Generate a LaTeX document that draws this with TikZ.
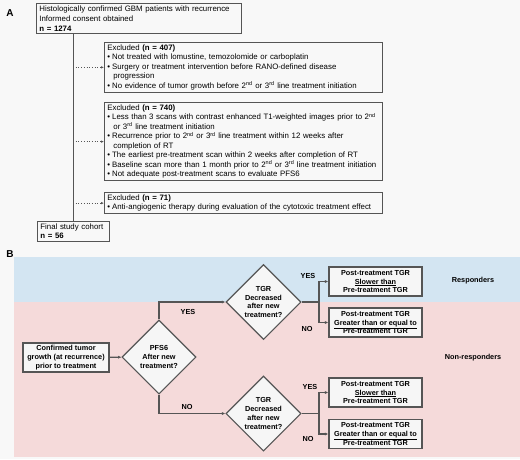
\documentclass[tikz,border=0pt]{standalone}
\usepackage{fontspec}
\setmainfont{Liberation Sans}
\usetikzlibrary{shapes.geometric,arrows.meta}
\definecolor{bgc}{HTML}{F8F8F8}
\definecolor{bluebg}{HTML}{D3E5F2}
\definecolor{pinkbg}{HTML}{F5DADA}
\definecolor{edgec}{HTML}{555555}
\definecolor{boxfill}{HTML}{F6F6F6}
\newcommand{\bul}{\par\hangindent=6pt\hangafter=1\textbullet\hspace{2pt}}
\newcommand{\brk}{\hfil\break}
\hyphenpenalty=10000
\exhyphenpenalty=10000
\begin{document}
\begin{tikzpicture}[x=1pt,y=-1pt,
  abox/.style={draw=edgec,line width=0.8pt,fill=bgc,anchor=north west,align=left,inner xsep=3pt,inner ysep=2.3pt,
    font=\fontsize{7.85}{9.5}\selectfont},
  bbox/.style={draw=edgec,line width=1.1pt,fill=boxfill,align=center,inner sep=0pt,minimum width=93pt,minimum height=29pt,
    font=\fontsize{7.3}{8.7}\selectfont\bfseries},
  dbox/.style={draw=edgec,line width=1.1pt,fill=boxfill,diamond,align=center,inner sep=0pt,minimum width=75pt,minimum height=75pt,
    font=\fontsize{7.3}{8.7}\selectfont\bfseries},
  lbl/.style={font=\fontsize{7.3}{8}\selectfont\bfseries},
  arr/.style={draw=edgec,line width=1.1pt,-{Latex[length=3.5pt,width=3pt]}},
  ln/.style={draw=edgec,line width=1.1pt},
  darr/.style={draw=edgec,line width=0.7pt,dotted,-{Latex[length=3pt,width=2.5pt]}}]
\fill[bgc] (0,0) rectangle (520,459);
\useasboundingbox (0,0) rectangle (520,459);
% Panel A
\node[font=\fontsize{10}{10}\selectfont\bfseries] (la) at (10,13) {A};
\node[abox,text width=199pt,font=\fontsize{7.85}{9.9}\selectfont] (top) at (36,3) {Histologically confirmed GBM patients with recurrence\\Informed consent obtained\\\textbf{n = 1274}};
\node[abox,text width=272pt] (b1) at (104,42) {Excluded \textbf{(n = 407)}%
\bul Not treated with lomustine, temozolomide or carboplatin
\bul Surgery or treatment intervention before RANO-defined disease\brk progression
\bul No evidence of tumor growth before 2\textsuperscript{nd} or 3\textsuperscript{rd} line treatment initiation};
\node[abox,text width=272pt] (b2) at (104,102) {Excluded \textbf{(n = 740)}%
\bul Less than 3 scans with contrast enhanced T1-weighted images prior to 2\textsuperscript{nd}\brk or 3\textsuperscript{rd} line treatment initiation
\bul Recurrence prior to 2\textsuperscript{nd} or 3\textsuperscript{rd} line treatment within 12 weeks after\brk completion of RT
\bul The earliest pre-treatment scan within 2 weeks after completion of RT
\bul Baseline scan more than 1 month prior to 2\textsuperscript{nd} or 3\textsuperscript{rd} line treatment initiation
\bul Not adequate post-treatment scans to evaluate PFS6};
\node[abox,text width=272pt] (b3) at (104,192) {Excluded \textbf{(n = 71)}%
\bul Anti-angiogenic therapy during evaluation of the cytotoxic treatment effect};
\node[abox,text width=66pt] (fin) at (37,221) {Final study cohort\\\textbf{n = 56}};
\coordinate (vx) at (73,0);
\draw[ln,line width=0.8pt] (top.south -| vx) -- (fin.north -| vx);
\draw[darr] (b1.west -| vx) -- (b1.west);
\draw[darr] (b2.west -| vx) -- (b2.west);
\draw[darr] (b3.west -| vx) -- (b3.west);
% Panel B
\node[font=\fontsize{10}{10}\selectfont\bfseries] (lb) at (10,254) {B};
\fill[bluebg] (14,257) rectangle (520,302);
\fill[pinkbg] (14,302) rectangle (520,457);
\node[bbox,minimum width=86pt] (conf) at (66,357.5) {Confirmed tumor\\growth (at recurrence)\\prior to treatment};
\node[dbox,minimum width=74pt,minimum height=74pt] (pfs) at (159,357) {PFS6\\After new\\treatment?};
\node[dbox] (tgra) at (263.5,302) {TGR\\Decreased\\after new\\treatment?};
\node[dbox] (tgrb) at (263.5,413.5) {TGR\\Decreased\\after new\\treatment?};
\node[bbox] (ra1) at (375.5,281.5) {Post-treatment TGR\\\underline{Slower than}\\Pre-treatment TGR};
\node[bbox] (ra2) at (375.5,322.5) {Post-treatment TGR\\\underline{Greater than or equal to}\\Pre-treatment TGR};
\node[bbox] (rb1) at (375.5,392.5) {Post-treatment TGR\\\underline{Slower than}\\Pre-treatment TGR};
\node[bbox] (rb2) at (375.5,434) {Post-treatment TGR\\\underline{Greater than or equal to}\\Pre-treatment TGR};
\coordinate (ja) at (319,302);
\coordinate (jb) at (319,413.5);
\draw[arr] (conf) -- (pfs);
\draw[arr] (pfs.north) |- (tgra.west);
\draw[arr] (pfs.south) |- (tgrb.west);
\draw[ln] (tgra.east) -- (ja);
\draw[arr] (ja) |- (ra1.west);
\draw[arr] (ja) |- (ra2.west);
\draw[ln] (tgrb.east) -- (jb);
\draw[arr] (jb) |- (rb1.west);
\draw[arr] (jb) |- (rb2.west);
\node[lbl] (y1) at (188,312) {YES};
\node[lbl] (n1) at (187,407) {NO};
\node[lbl] (y2) at (308,276) {YES};
\node[lbl] (n2) at (307,329) {NO};
\node[lbl] (y3) at (310,387) {YES};
\node[lbl] (n3) at (308,439) {NO};
\node[lbl] (resp) at (473,281) {Responders};
\node[lbl] (nresp) at (473,358) {Non-responders};
\end{tikzpicture}
\end{document}
